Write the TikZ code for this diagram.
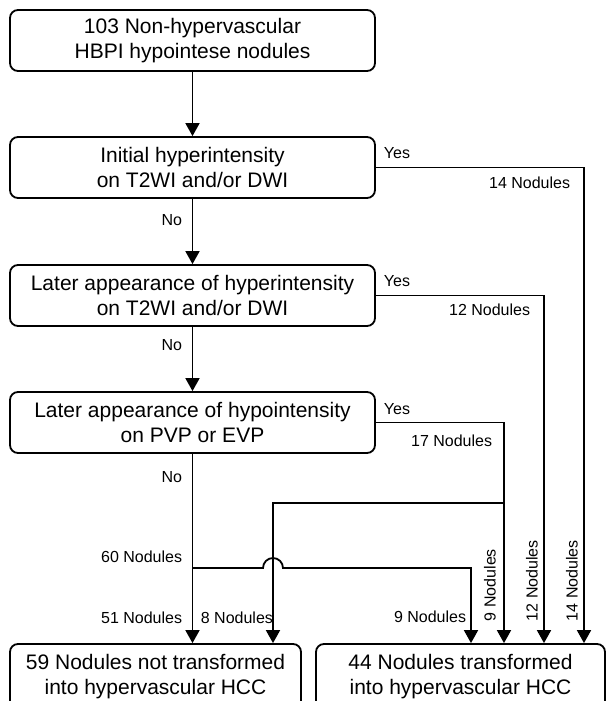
\documentclass[tikz,border=0pt]{standalone}
\usepackage{fontspec}
\setmainfont{Liberation Sans}
\usetikzlibrary{calc,arrows.meta}

\begin{document}
\begin{tikzpicture}[x=1pt,y=-1pt,line width=1.8pt,
       box/.style={draw,rounded corners=8pt,align=center,minimum height=61pt,
              inner sep=0pt,font=\fontsize{21}{25}\selectfont},
       lab/.style={inner sep=0pt,font=\fontsize{16}{19}\selectfont},
       arr/.style={-{Triangle[width=14pt,length=13pt]}}]
       \useasboundingbox(0,0)rectangle(606,701);%page

       \node[box,minimum width=365pt](top)at(192.5,40.5)
           {103 Non-hypervascular\\HBPI hypointese nodules};%start
       \node[box,minimum width=365pt](initial)at(192.5,167.5)
           {Initial hyperintensity\\on T2WI and/or DWI};%step 1
       \node[box,minimum width=365pt](laterhyper)at(192.5,295.5)
           {Later appearance of hyperintensity\\on T2WI and/or DWI};%step 2
       \node[box,minimum width=365pt](laterhypo)at(192.5,422.5)
           {Later appearance of hypointensity\\on PVP or EVP};%step 3
       \node[box,minimum width=291pt,minimum height=66pt](nottrans)at(155.5,677)
           {59 Nodules not transformed\\into hypervascular HCC};%result no
       \node[box,minimum width=289pt,minimum height=66pt](trans)at(460.5,677)
           {44 Nodules transformed\\into hypervascular HCC};%result yes

       \coordinate(c8)at(273,0);%column 8
       \coordinate(c9)at(471,0);%column 9
       \coordinate(c17)at(504,0);%column 17
       \coordinate(c12)at(544,0);%column 12
       \coordinate(c14)at(584,0);%column 14
       \coordinate(r17)at(0,503);%row 17 split
       \coordinate(r60)at(0,568);%row 60 split

       \draw[arr](top)--(initial);
       \draw[arr](initial)--(laterhyper);%No
       \draw[arr](laterhyper)--(laterhypo);%No
       \draw[arr](laterhypo.south)--(laterhypo.south|-nottrans.north);%No
       \draw[arr](laterhypo.south|-r60)--($(c8|-r60)+(-10,0)$)
           arc[start angle=180,end angle=0,radius=10pt]
           --(c9|-r60)--(c9|-trans.north);%hop
       \draw[arr](initial.east)-|(c14|-trans.north);%Yes
       \draw[arr](laterhyper.east)-|(c12|-trans.north);%Yes
       \draw[arr](laterhypo.east)-|(c17|-trans.north);%Yes
       \draw[arr](c17|-r17)-|(c8|-nottrans.north);%split 17

       \node[lab,anchor=west](yes1)at(383,153){Yes};
       \node[lab,anchor=west](yes2)at(383,281){Yes};
       \node[lab,anchor=west](yes3)at(383,409){Yes};
       \node[lab,anchor=east](no1)at(183,220){No};
       \node[lab,anchor=east](no2)at(183,345){No};
       \node[lab,anchor=east](no3)at(183,477){No};
       \node[lab,anchor=east](n14)at(571,183){14 Nodules};
       \node[lab,anchor=east](n12)at(531,310){12 Nodules};
       \node[lab,anchor=east](n17)at(493,441){17 Nodules};
       \node[lab,anchor=east](n60)at(183,557){60 Nodules};
       \node[lab,anchor=east](n51)at(183,618){51 Nodules};
       \node[lab,anchor=west](n8)at(200,618){8 Nodules};
       \node[lab,anchor=east](n9a)at(467,617){9 Nodules};
       \node[lab,anchor=west,rotate=90](n9b)at(490,622){9 Nodules};
       \node[lab,anchor=west,rotate=90](n12b)at(532,622){12 Nodules};
       \node[lab,anchor=west,rotate=90](n14b)at(572,622){14 Nodules};
\end{tikzpicture}
\end{document}
